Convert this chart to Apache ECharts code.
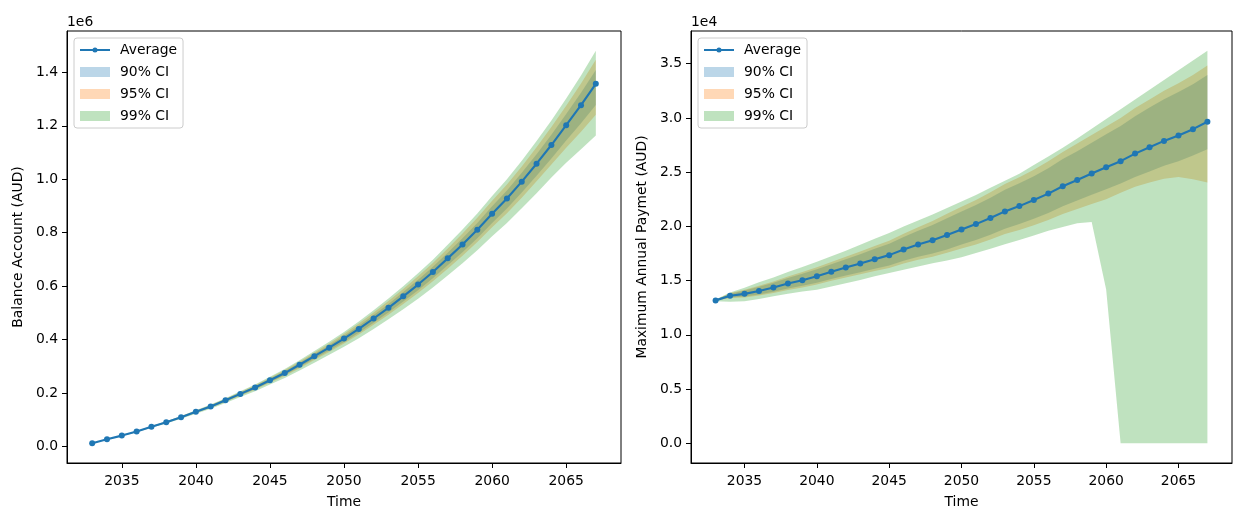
<!DOCTYPE html>
<html>
<head>
<meta charset="utf-8">
<script src="https://cdn.jsdelivr.net/npm/echarts@6.0.0/dist/echarts.min.js"></script>
<style>
html, body { margin: 0; padding: 0; background: #fff; }
#main { width: 1234px; height: 506px; }
</style>
</head>
<body>
<div id="main"></div>
<script>
// years of the simulation
const years = [2033, 2034, 2035, 2036, 2037, 2038, 2039, 2040, 2041, 2042,
    2043, 2044, 2045, 2046, 2047, 2048, 2049, 2050, 2051, 2052,
    2053, 2054, 2055, 2056, 2057, 2058, 2059, 2060, 2061, 2062,
    2063, 2064, 2065, 2066, 2067]

// balance account (AUD)
const balanceAvg = [12500, 27000, 41000, 56000, 74000, 91000, 110000, 130000, 150000, 173000,
    197000, 221000, 248000, 275000, 306000, 338000, 370000, 404000, 440000, 479000,
    519000, 562000, 606000, 653000, 704000, 756000, 811000, 871000, 928000, 991000,
    1058000, 1128000, 1202000, 1277000, 1357000]
const balanceLow90 = [12300, 26600, 40200, 55000, 72600, 89200, 107700, 127100, 146500, 168900,
    192100, 215300, 241400, 267400, 297400, 328200, 358900, 391300, 425600, 463000,
    501400, 542300, 584300, 629200, 677800, 727300, 779400, 836600, 890300, 950000,
    1012900, 1078000, 1144600, 1209300, 1278000]
const balanceHigh90 = [12700, 27400, 41600, 56800, 75300, 92500, 111900, 132300, 152900, 176400,
    201000, 225600, 253500, 281300, 313100, 346200, 379200, 414500, 451800, 492000,
    533500, 578000, 623600, 672300, 725400, 779500, 836600, 898700, 958200, 1023800,
    1093700, 1166600, 1244000, 1323600, 1409000]
const balanceLow95 = [12200, 26400, 39800, 54500, 71900, 88300, 106700, 125800, 144900, 167000,
    189800, 212600, 238400, 263900, 293400, 323600, 353800, 385400, 419000, 455600,
    493200, 533200, 574200, 618200, 665600, 714000, 764800, 820600, 872800, 931000,
    992000, 1055000, 1118000, 1178000, 1241000]
const balanceHigh95 = [12900, 27700, 42100, 57500, 76200, 93600, 113300, 134000, 155100, 178800,
    203900, 229000, 257500, 286000, 318400, 352200, 386000, 422300, 460400, 501600,
    544200, 589700, 636700, 686600, 741200, 796900, 855500, 919200, 980600, 1048000,
    1120000, 1195000, 1275000, 1358000, 1447000]
const balanceLow99 = [12000, 26000, 39000, 53500, 70500, 86500, 104500, 123000, 141500, 163000,
    185000, 207000, 232000, 256500, 285000, 314000, 343000, 373000, 405000, 440000,
    476000, 514000, 553000, 595000, 640000, 686000, 734000, 787000, 836000, 891000,
    948000, 1006000, 1062000, 1112000, 1164000]
const balanceHigh99 = [13000, 28000, 42500, 58000, 77000, 94500, 114500, 135500, 157000, 181000,
    206500, 232000, 261000, 290000, 323000, 357500, 392000, 429000, 468000, 510000,
    553500, 600000, 648000, 699000, 755000, 812000, 872000, 937000, 1000000, 1069000,
    1143000, 1220000, 1302000, 1388000, 1481000]

// maximum annual payment (AUD)
const paymentAvg = [13180, 13600, 13780, 14050, 14360, 14730, 15040, 15400, 15810, 16200,
    16580, 16980, 17350, 17870, 18330, 18730, 19210, 19720, 20210, 20770,
    21380, 21870, 22430, 23020, 23700, 24280, 24870, 25450, 26010, 26710,
    27300, 27880, 28380, 28960, 29640]
const paymentLow90 = [13150, 13450, 13530, 13730, 13970, 14280, 14520, 14810, 15160, 15480,
    15780, 16100, 16390, 16830, 17200, 17500, 17880, 18320, 18740, 19230,
    19780, 20210, 20710, 21240, 21860, 22380, 22910, 23430, 23950, 24550,
    25070, 25580, 26010, 26530, 27120]
const paymentHigh90 = [13210, 13800, 14080, 14430, 14810, 15250, 15630, 16050, 16510, 16980,
    17440, 17930, 18400, 19020, 19600, 20130, 20760, 21370, 21970, 22650,
    23380, 23970, 24630, 25370, 26200, 26930, 27720, 28500, 29260, 30160,
    30950, 31730, 32380, 33110, 33960]
const paymentLow95 = [13140, 13400, 13450, 13630, 13850, 14140, 14370, 14650, 14980, 15290,
    15580, 15890, 16160, 16580, 16930, 17210, 17560, 17960, 18340, 18790,
    19290, 19670, 20110, 20580, 21140, 21600, 22070, 22500, 23100, 23650,
    24050, 24390, 24550, 24350, 24040]
const paymentHigh95 = [13220, 13850, 14160, 14530, 14930, 15390, 15790, 16230, 16710, 17200,
    17680, 18190, 18680, 19330, 19930, 20490, 21160, 21800, 22430, 23150,
    23910, 24520, 25230, 26000, 26860, 27630, 28420, 29200, 29990, 30910,
    31700, 32500, 33200, 33960, 34820]
const paymentLow99 = [13100, 13050, 13090, 13300, 13550, 13800, 14000, 14170, 14450, 14750,
    15050, 15400, 15700, 16000, 16300, 16600, 16850, 17150, 17550, 17950,
    18350, 18750, 19150, 19600, 19950, 20300, 20400, 14180, 0, 0,
    0, 0, 0, 0, 0]
const paymentHigh99 = [13250, 13900, 14350, 14850, 15300, 15800, 16250, 16750, 17250, 17750,
    18300, 18850, 19400, 20000, 20550, 21100, 21700, 22300, 22900, 23550,
    24200, 24850, 25650, 26450, 27250, 28100, 29000, 29900, 30800, 31700,
    32600, 33500, 34400, 35300, 36200]

// ticks
const yearTicks = [2035, 2040, 2045, 2050, 2055, 2060, 2065]
const balanceTicks = [0, 200000, 400000, 600000, 800000, 1000000, 1200000, 1400000]
const paymentTicks = [0, 5000, 10000, 15000, 20000, 25000, 30000, 35000]

const C0 = '#1f77b4'
const C1 = '#ff7f0e'
const C2 = '#2ca02c'
const FONT = 'DejaVu Sans'
const FS = 13.9
// legend handle for the line: thin bar with a small dot in the middle
const LINE_ICON = 'path://M0,1.45L30,1.45L30,3.55L0,3.55Z M17.5,2.5A2.5,2.5,0,1,1,12.5,2.5A2.5,2.5,0,1,1,17.5,2.5Z'

function pairs(values) {
    return years.map(function (y, i) { return [y, values[i]] })
}

// a CI band drawn as one polygon (upper edge forward, lower edge back)
function band(name, low, high, color, idx) {
    return {
        name: name,
        type: 'custom',
        xAxisIndex: idx,
        yAxisIndex: idx,
        silent: true,
        itemStyle: { color: color, opacity: 0.3 },
        data: pairs(high),
        renderItem: function (params, api) {
            if (params.dataIndex !== 0) {
                return null
            }
            const points = []
            for (let i = 0; i < years.length; i++) {
                points.push(api.coord([years[i], high[i]]))
            }
            for (let i = years.length - 1; i >= 0; i--) {
                points.push(api.coord([years[i], low[i]]))
            }
            return {
                type: 'polygon',
                shape: { points: points },
                style: { fill: color, opacity: 0.3 }
            }
        }
    }
}

function avgLine(values, idx) {
    return {
        name: 'Average',
        type: 'line',
        xAxisIndex: idx,
        yAxisIndex: idx,
        data: pairs(values),
        symbol: 'circle',
        symbolSize: 6,
        z: 10,
        lineStyle: { color: C0, width: 2.1 },
        itemStyle: { color: C0 }
    }
}

function xAxis(idx) {
    return {
        type: 'value',
        gridIndex: idx,
        min: 2031.3,
        max: 2068.7,
        name: 'Time',
        nameLocation: 'middle',
        nameGap: 32,
        nameTextStyle: { fontFamily: FONT, fontSize: FS, color: '#000' },
        splitLine: { show: false },
        axisLine: { show: true, onZero: false, lineStyle: { color: '#000', width: 1 } },
        axisTick: { show: true, inside: false, length: 5, customValues: yearTicks, lineStyle: { color: '#000' } },
        axisLabel: {
            margin: 11, fontFamily: FONT, fontSize: FS, color: '#000',
            customValues: yearTicks,
            formatter: function (v) { return String(v) }
        }
    }
}

function yAxis(idx, min, max, ticks, scale, name) {
    return {
        type: 'value',
        gridIndex: idx,
        min: min,
        max: max,
        name: name,
        nameLocation: 'middle',
        nameGap: 42,
        nameTextStyle: { fontFamily: FONT, fontSize: FS, color: '#000' },
        splitLine: { show: false },
        axisLine: { show: true, onZero: false, lineStyle: { color: '#000', width: 1 } },
        axisTick: { show: true, inside: false, length: 5, customValues: ticks, lineStyle: { color: '#000' } },
        axisLabel: {
            margin: 9, fontFamily: FONT, fontSize: FS, color: '#000',
            customValues: ticks,
            formatter: function (v) { return (v / scale).toFixed(1) }
        }
    }
}

function legend(left) {
    return {
        left: left,
        top: 38,
        orient: 'vertical',
        selectedMode: false,
        itemWidth: 30,
        itemHeight: 10,
        itemGap: 8,
        padding: [5, 6, 5, 6],
        backgroundColor: 'rgba(255,255,255,0.8)',
        borderColor: '#cccccc',
        borderWidth: 1,
        borderRadius: 3,
        textStyle: { fontFamily: FONT, fontSize: FS, color: '#000', padding: [0, 0, 0, 5] },
        data: [
            { name: 'Average', icon: LINE_ICON, itemStyle: { color: C0 } },
            { name: '90% CI', icon: 'rect', itemStyle: { color: C0, opacity: 0.3 } },
            { name: '95% CI', icon: 'rect', itemStyle: { color: C1, opacity: 0.3 } },
            { name: '99% CI', icon: 'rect', itemStyle: { color: C2, opacity: 0.3 } }
        ]
    }
}

const myChart = echarts.init(document.getElementById('main'), null, { renderer: 'canvas' })

const series = [
    band('90% CI', balanceLow90, balanceHigh90, C0, 0),
    band('95% CI', balanceLow95, balanceHigh95, C1, 0),
    band('99% CI', balanceLow99, balanceHigh99, C2, 0),
    avgLine(balanceAvg, 0),
    band('90% CI', paymentLow90, paymentHigh90, C0, 1),
    band('95% CI', paymentLow95, paymentHigh95, C1, 1),
    band('99% CI', paymentLow99, paymentHigh99, C2, 1),
    avgLine(paymentAvg, 1)
]

const option = {
    animation: false,
    backgroundColor: '#fff',
    grid: [
        { left: 67, right: 613, top: 31, bottom: 43, outerBoundsMode: 'none', containLabel: false,
            show: true, borderColor: '#000', borderWidth: 1, backgroundColor: 'transparent' },
        { left: 691, right: 2, top: 31, bottom: 43, outerBoundsMode: 'none', containLabel: false,
            show: true, borderColor: '#000', borderWidth: 1, backgroundColor: 'transparent' }
    ],
    xAxis: [xAxis(0), xAxis(1)],
    yAxis: [
        yAxis(0, -61450, 1554450, balanceTicks, 1e6, 'Balance Account (AUD)'),
        yAxis(1, -1810, 38010, paymentTicks, 1e4, 'Maximum Annual Paymet (AUD)')
    ],
    legend: [legend(74), legend(698)],
    graphic: [
        { type: 'text', left: 67, top: 15, style: { text: '1e6', fontFamily: FONT, fontSize: FS, fill: '#000' } },
        { type: 'text', left: 691, top: 15, style: { text: '1e4', fontFamily: FONT, fontSize: FS, fill: '#000' } }
    ],
    series: series
}

if (option && typeof option === 'object') {
    myChart.setOption(option)
}
</script>
</body>
</html>
